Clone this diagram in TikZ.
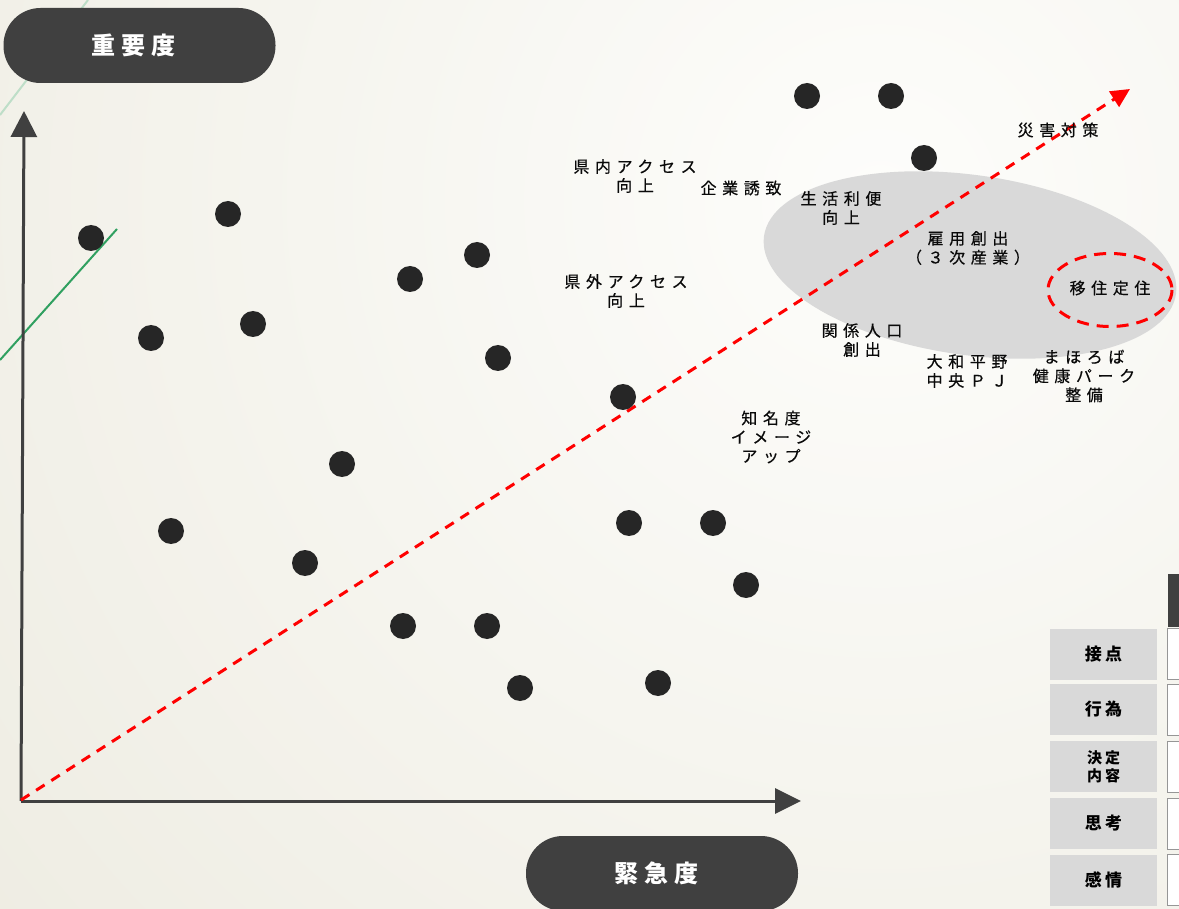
\documentclass[tikz,border=0pt]{standalone}
\usepackage{fontspec}
\setmainfont{Noto Sans CJK JP}
\newfontfamily\labfont[LetterSpace=35,FakeBold=0.5]{Noto Sans CJK JP}
\newfontfamily\pillfont[LetterSpace=25]{Noto Sans CJK JP}
\newfontfamily\tabfont[LetterSpace=20]{Noto Sans CJK JP}
\usetikzlibrary{arrows.meta}
\definecolor{bgin}{RGB}{253,253,251}
\definecolor{bgout}{RGB}{229,226,211}
\definecolor{dark}{RGB}{64,64,64}
\definecolor{dotc}{RGB}{38,38,38}
\definecolor{ellc}{RGB}{217,217,217}
\definecolor{lgreen}{RGB}{190,222,200}
\definecolor{dgreen}{RGB}{48,160,96}
\definecolor{redc}{RGB}{255,0,0}
\definecolor{txt}{RGB}{10,10,10}
\definecolor{boxb}{RGB}{150,150,150}
\tikzset{
  dot/.style={circle, fill=dotc, minimum size=26, inner sep=0},
  pill/.style={fill=dark, rounded corners=37pt, minimum width=272, minimum height=75, inner sep=0, text=white, font=\pillfont\bfseries\fontsize{24}{28}\selectfont},
  lab/.style={align=center, inner sep=0, text=txt, font=\labfont\fontsize{16}{19}\selectfont},
  axis/.style={draw=dark, line width=3pt},
  tablab/.style={fill=ellc, minimum width=107, minimum height=51, inner sep=0, align=center, text=black, font=\tabfont\bfseries\fontsize{17}{18}\selectfont},
  tabcell/.style={draw=boxb, line width=1pt, fill=white, minimum width=30, minimum height=51, inner sep=0},
}
\begin{document}
\begin{tikzpicture}[x=1pt, y=-1pt]
\useasboundingbox (0,0) rectangle (1179,909);
% background
\begin{scope}
\clip (0,0) rectangle (1179,909);
\shade[inner color=bgin, outer color=bgout] (880,200) circle (1900);
\end{scope}
% green lines
\coordinate (g1a) at (0,115);
\coordinate (g1b) at (88,0);
\coordinate (g2a) at (0,360);
\coordinate (g2b) at (117,229);
\draw[lgreen, line width=2pt] (g1a) -- (g1b);
\draw[dgreen, line width=2pt] (g2a) -- (g2b);
% pills
\node[pill] (imp) at (139.5,45.5) {重要度\kern12pt};
\node[pill] (urg) at (662,873.5) {緊急度\kern12pt};
% grey ellipse
\fill[ellc, rotate around={-8:(970,265)}] (970,265) ellipse [x radius=208, y radius=90];
% axes
\coordinate (O) at (21,801);
\coordinate (ytip) at (24,111);
\coordinate (xtip) at (801,801);
\draw[axis, -{Triangle[length=26pt,width=26pt]}] (O) -- (ytip);
\draw[axis, -{Triangle[length=26pt,width=25pt]}] (O) -- (xtip);
% red dashed trend
\coordinate (r0) at (21,800);
\coordinate (r1) at (1130,89);
\draw[redc, line width=3pt, dash pattern=on 10pt off 8pt, -{Triangle[length=19pt,width=18pt]}] (r0) -- (r1);
% red dashed ellipse
\draw[redc, line width=3pt, dash pattern=on 12pt off 8pt] (1110,290) ellipse [x radius=62, y radius=36.5];
% dots
\node[dot] (d1) at (807,96) {};
\node[dot] (d2) at (891,96) {};
\node[dot] (d3) at (924,158) {};
\node[dot] (d4) at (91,238) {};
\node[dot] (d5) at (228,214) {};
\node[dot] (d6) at (410,279) {};
\node[dot] (d7) at (477,255) {};
\node[dot] (d8) at (151,338) {};
\node[dot] (d9) at (253,324) {};
\node[dot] (d10) at (498,358) {};
\node[dot] (d11) at (623,397) {};
\node[dot] (d12) at (342,464) {};
\node[dot] (d13) at (171,531) {};
\node[dot] (d14) at (305,563) {};
\node[dot] (d15) at (629,523) {};
\node[dot] (d16) at (713,523) {};
\node[dot] (d17) at (746,585) {};
\node[dot] (d18) at (403,626) {};
\node[dot] (d19) at (487,626) {};
\node[dot] (d20) at (520,688) {};
\node[dot] (d21) at (658,683) {};
% labels
\node[lab] (l1) at (635,176) {県内アクセス\\向上};
\node[lab] (l2) at (741,188) {企業誘致};
\node[lab] (l3) at (841,208) {生活利便\\向上};
\node[lab] (l4) at (1058,130) {災害対策};
\node[lab] (l5) at (968,248) {雇用創出\\（３次産業）};
\node[lab] (l6) at (1110,288) {移住定住};
\node[lab] (l7) at (626,291) {県外アクセス\\向上};
\node[lab] (l8) at (862,340) {関係人口\\創出};
\node[lab] (l9) at (967,371) {大和平野\\中央ＰＪ};
\node[lab] (l10) at (1084,376) {まほろば\\健康パーク\\整備};
\node[lab] (l11) at (771,437) {知名度\\イメージ\\アップ};
% table
\node[fill=dark, minimum width=20, minimum height=53, inner sep=0] (hdr) at (1178,600.5) {};
\node[tablab] (t1) at (1103.5,654) {接点};
\node[tablab] (t2) at (1103.5,709.5) {行為};
\node[tablab, font=\tabfont\bfseries\fontsize{15}{18}\selectfont] (t3) at (1103.5,766.5) {決定\\内容};
\node[tablab] (t4) at (1103.5,823.5) {思考};
\node[tablab] (t5) at (1103.5,880) {感情};
\node[tabcell] (c1) at (1182.5,654) {};
\node[tabcell] (c2) at (1182.5,709.5) {};
\node[tabcell] (c3) at (1182.5,766.5) {};
\node[tabcell] (c4) at (1182.5,823.5) {};
\node[tabcell] (c5) at (1182.5,880) {};
\end{tikzpicture}
\end{document}
